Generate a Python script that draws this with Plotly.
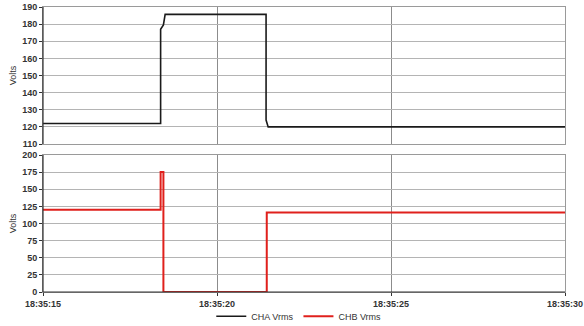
import plotly.graph_objects as go
from plotly.subplots import make_subplots

base = "2020-01-01 18:35:"
cha_sec = [15, 18.38, 18.38, 18.46, 18.51, 21.41, 21.41, 21.46, 21.47, 30]
cha_v = [122, 122, 177, 179.5, 185.7, 185.7, 124, 121, 120, 120]
chb_sec = [15, 18.38, 18.38, 18.46, 18.46, 21.43, 21.43, 30]
chb_v = [120, 120, 175, 175, 0, 0, 116, 116]


def ts(s):
    whole = int(s)
    ms = int(round((s - whole) * 1000))
    return f"{base}{whole:02d}.{ms:03d}"


fig = make_subplots(rows=2, cols=1, shared_xaxes=True, vertical_spacing=0.0386)
fig.add_trace(go.Scatter(x=[ts(s) for s in cha_sec], y=cha_v, mode="lines",
                         line=dict(color="#1a1a1a", width=1.6), name="CHA Vrms"), row=1, col=1)
fig.add_trace(go.Scatter(x=[ts(s) for s in chb_sec], y=chb_v, mode="lines",
                         line=dict(color="#e0201c", width=2), name="CHB Vrms"), row=2, col=1)

fam = "Liberation Sans, Arial, sans-serif"
tfont = dict(family=fam, size=9, color="#333333", weight="bold")

fig.update_layout(
    width=584, height=326,
    margin=dict(l=43, r=19, t=7, b=34, autoexpand=False),
    paper_bgcolor="white", plot_bgcolor="white",
    font=dict(family=fam, size=9, color="#333333"),
    legend=dict(orientation="h", x=0.49, xanchor="center", y=-0.085, yanchor="middle",
                bgcolor="rgba(0,0,0,0)", tracegroupgap=0,
                font=dict(family=fam, size=9, color="#333333"), itemwidth=30),
)
fig.update_layout(
    yaxis=dict(domain=[0.5193, 1.0]),
    yaxis2=dict(domain=[0.0, 0.4807]),
)
for r in (1, 2):
    fig.update_xaxes(row=r, col=1, range=[ts(15), ts(30)], tick0=ts(15), dtick=5000,
                     tickformat="%H:%M:%S", automargin=False,
                     showgrid=True, gridcolor="#8c8c8c", gridwidth=1, zeroline=False,
                     showline=True, linecolor="#9a9a9a", linewidth=1, mirror=True,
                     tickfont=tfont)
fig.update_xaxes(row=1, col=1, showticklabels=False, ticks="")
fig.update_xaxes(row=2, col=1, ticks="outside", ticklen=3, tickcolor="#333333")

fig.update_yaxes(row=1, col=1, range=[110, 190], dtick=10, title=dict(text="Volts", standoff=4))
fig.update_yaxes(row=2, col=1, range=[0, 200], dtick=25, title=dict(text="Volts", standoff=4))
for r in (1, 2):
    fig.update_yaxes(row=r, col=1, showgrid=True, gridcolor="#b4b4b4", gridwidth=1.2, zeroline=False,
                     showline=True, linecolor="#9a9a9a", linewidth=1, mirror=True, automargin=False,
                     ticks="outside", ticklen=3, tickcolor="#333333",
                     tickfont=tfont, title_font=dict(family=fam, size=9, color="#333333"))

# dark left axis lines and bottom axis line
fig.add_shape(type="line", xref="x domain", yref="y domain", x0=0, x1=0, y0=0, y1=1,
              line=dict(color="#333333", width=1.2))
fig.add_shape(type="line", xref="x2 domain", yref="y2 domain", x0=0, x1=0, y0=0, y1=1,
              line=dict(color="#333333", width=1.2))
fig.add_shape(type="line", xref="x2 domain", yref="y2 domain", x0=0, x1=1, y0=0, y1=0,
              line=dict(color="#333333", width=1.2))

fig.write_html("out.html")
